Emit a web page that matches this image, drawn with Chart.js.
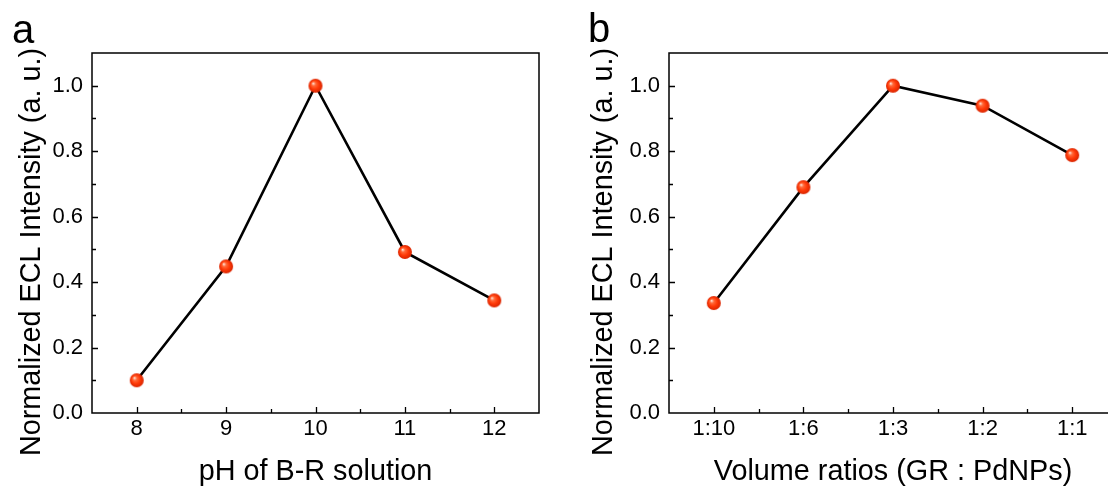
<!DOCTYPE html>
<html>
<head>
<meta charset="utf-8">
<script src="https://cdn.jsdelivr.net/npm/chart.js@4.4.0/dist/chart.umd.min.js"></script>
<style>
  html, body { margin: 0; padding: 0; background: #fff; overflow: hidden; }
  body { width: 1108px; height: 491px; position: relative; }
  .panel { position: absolute; top: 0; height: 491px; }
  #wrap-a { left: 0; width: 560px; }
  #wrap-b { left: 560px; width: 580px; }
</style>
</head>
<body>
<div class="panel" id="wrap-a"><canvas id="chart-a" width="560" height="491"></canvas></div>
<div class="panel" id="wrap-b"><canvas id="chart-b" width="580" height="491"></canvas></div>
<script>
// panel a: pH of B-R solution
const phValues = [8, 9, 10, 11, 12];
const phIntensity = [0.10, 0.448, 1.0, 0.492, 0.344];

// panel b: volume ratios GR : PdNPs
const ratioLabels = ["1:10", "1:6", "1:3", "1:2", "1:1"];
const ratioIntensity = [0.336, 0.69, 1.0, 0.939, 0.788];

const yTitle = "Normalized ECL Intensity (a. u.)";
const FONT = '"Liberation Sans", Arial, sans-serif';
const TITLE_SIZE = 28.8;

// shiny red sphere marker
function makeBall(r) {
  const c = document.createElement("canvas");
  c.width = c.height = r * 2 + 2;
  const g = c.getContext("2d");
  const cx = r + 1, cy = r + 1;
  const grad = g.createRadialGradient(cx - r * 0.35, cy - r * 0.35, 0.3, cx, cy, r);
  grad.addColorStop(0, "#ffe6dc");
  grad.addColorStop(0.25, "#ff6a3a");
  grad.addColorStop(0.6, "#ff3a08");
  grad.addColorStop(1, "#d82400");
  g.fillStyle = grad;
  g.beginPath();
  g.arc(cx, cy, r, 0, Math.PI * 2);
  g.fill();
  return c;
}
const ball = makeBall(7);

// frame, inward ticks, rotated y title and panel letter
const frameTicks = {
  id: "frameTicks",
  beforeDatasetsDraw(chart) {
    const { ctx, chartArea: a, scales: { x, y } } = chart;
    ctx.save();
    ctx.strokeStyle = "#000";
    ctx.lineWidth = 1.5;
    ctx.strokeRect(a.left, a.top, a.right - a.left, a.bottom - a.top);
    ctx.lineWidth = 1.3;
    ctx.beginPath();
    x.ticks.forEach(t => {
      const px = Math.round(x.getPixelForValue(t.value)) + 0.5;
      if (px <= a.left + 1 || px >= a.right - 1) return;
      const len = t.label ? 6 : 4;
      ctx.moveTo(px, a.bottom);
      ctx.lineTo(px, a.bottom - len);
    });
    y.ticks.forEach(t => {
      const py = Math.round(y.getPixelForValue(t.value)) + 0.5;
      if (py <= a.top + 1 || py >= a.bottom - 1) return;
      const len = t.label ? 6 : 4;
      ctx.moveTo(a.left, py);
      ctx.lineTo(a.left + len, py);
    });
    ctx.stroke();
    ctx.restore();
  },
  afterDraw(chart, args, opts) {
    const ctx = chart.ctx;
    ctx.save();
    ctx.fillStyle = "#000";
    ctx.font = TITLE_SIZE + "px " + FONT;
    ctx.textAlign = "center";
    ctx.textBaseline = "middle";
    ctx.translate(opts.titleX, opts.titleY);
    ctx.rotate(-Math.PI / 2);
    ctx.fillText(yTitle, 0, 0);
    ctx.restore();

    ctx.save();
    ctx.fillStyle = "#000";
    ctx.font = "40px " + FONT;
    ctx.textAlign = "left";
    ctx.textBaseline = "alphabetic";
    ctx.fillText(opts.letter, opts.letterX, opts.letterY);
    ctx.restore();
  }
};

function buildOptions(xMin, xMax, xLabel, xTitle, yAxisWidth, rightPad, deco) {
  return {
    responsive: false,
    animation: false,
    devicePixelRatio: 1,
    layout: { padding: { top: 53, right: rightPad, left: 0, bottom: 0 } },
    plugins: { legend: { display: false }, tooltip: { enabled: false }, frameTicks: deco },
    scales: {
      x: {
        type: "linear",
        min: xMin,
        max: xMax,
        grid: { display: false, drawTicks: false, tickLength: 0 },
        border: { display: false },
        ticks: {
          stepSize: 0.5,
          autoSkip: false,
          maxRotation: 0,
          padding: 3,
          color: "#000",
          font: { family: FONT, size: 22 },
          callback: xLabel
        },
        title: {
          display: true,
          text: xTitle,
          color: "#000",
          font: { family: FONT, size: TITLE_SIZE },
          padding: { top: 0, bottom: 2 }
        },
        afterFit(scale) { scale.height = 78; }
      },
      y: {
        min: 0,
        max: 1.1,
        grid: { display: false, drawTicks: false, tickLength: 0 },
        border: { display: false },
        ticks: {
          stepSize: 0.1,
          autoSkip: false,
          padding: 9,
          color: "#000",
          font: { family: FONT, size: 22 },
          callback: v => (Math.round(v * 10) % 2 === 0 ? v.toFixed(1) : "")
        },
        afterFit(scale) { scale.width = yAxisWidth; }
      }
    }
  };
}

function dataset(points) {
  return {
    data: points,
    borderColor: "#000",
    borderWidth: 2.6,
    pointStyle: ball,
    pointRadius: 7,
    pointHoverRadius: 7,
    tension: 0
  };
}

new Chart(document.getElementById("chart-a"), {
  type: "line",
  data: { datasets: [dataset(phValues.map((x, i) => ({ x, y: phIntensity[i] })))] },
  options: buildOptions(
    7.5, 12.5,
    v => (Number.isInteger(v) ? String(v) : ""),
    "pH of B-R solution",
    92, 21,
    { titleX: 32, titleY: 252, letter: "a", letterX: 12, letterY: 43 }
  ),
  plugins: [frameTicks]
});

new Chart(document.getElementById("chart-b"), {
  type: "line",
  data: { datasets: [dataset(ratioLabels.map((l, i) => ({ x: i, y: ratioIntensity[i] })))] },
  options: buildOptions(
    -0.5, 4.5,
    v => (Number.isInteger(v) && ratioLabels[v] ? ratioLabels[v] : ""),
    "Volume ratios (GR : PdNPs)",
    109, 23,
    { titleX: 44.5, titleY: 252, letter: "b", letterX: 28, letterY: 42 }
  ),
  plugins: [frameTicks]
});
</script>
</body>
</html>
